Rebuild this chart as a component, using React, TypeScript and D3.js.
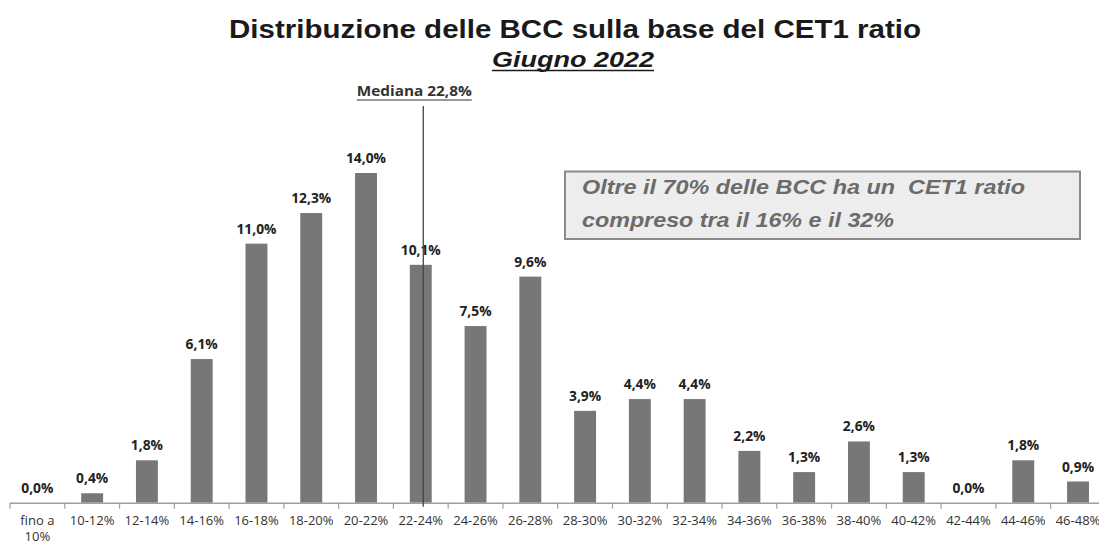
import React from "react";
import * as d3 from "d3";

const categories = [
  "fino a 10%", "10-12%", "12-14%", "14-16%", "16-18%", "18-20%", "20-22%",
  "22-24%", "24-26%", "26-28%", "28-30%", "30-32%", "32-34%", "34-36%",
  "36-38%", "38-40%", "40-42%", "42-44%", "44-46%", "46-48%",
];
const values = [0.0, 0.4, 1.8, 6.1, 11.0, 12.3, 14.0, 10.1, 7.5, 9.6, 3.9, 4.4, 4.4, 2.2, 1.3, 2.6, 1.3, 0.0, 1.8, 0.9];
const tickLabelLines = [
  ["fino a", "10%"], ["10-12%"], ["12-14%"], ["14-16%"], ["16-18%"], ["18-20%"], ["20-22%"],
  ["22-24%"], ["24-26%"], ["26-28%"], ["28-30%"], ["30-32%"], ["32-34%"], ["34-36%"],
  ["36-38%"], ["38-40%"], ["40-42%"], ["42-44%"], ["44-46%"], ["46-48%"],
];
const medianCategory = "22-24%";
const medianLabel = "Mediana 22,8%";
const title = "Distribuzione delle BCC sulla base del CET1 ratio";
const subtitle = "Giugno 2022";
const noteLines = ["Oltre il 70% delle BCC ha un  CET1 ratio", "compreso tra il 16% e il 32%"];

const fmt = (v: number) => v.toFixed(1).replace(".", ",") + "%";

export default function App() {
  const W = 1099, H = 543;
  const x = d3.scaleBand<string>().domain(categories).range([10, 1105.4]).paddingInner(0.6).paddingOuter(0.3);
  const xs = d3.scaleBand<string>().domain(categories).range([10, 1105.4]).padding(0);
  const y = d3.scaleLinear().domain([0, 16]).range([502.7, 502.7 - 16 * 23.55]);
  const y0 = y(0);
  const medX = (x(medianCategory) as number) + x.bandwidth() / 2 + 2.5;
  const boundaries = categories.map((c) => xs(c) as number).concat([xs.range()[1]]);

  return (
    <svg width={W} height={H} style={{ position: "absolute", left: 0, top: 0, background: "#fff" }}>
      <text x={575} y={38} textAnchor="middle" fontFamily="Liberation Sans, Arial, sans-serif" fontWeight="bold" fontSize={25.5} fill="#1a1a1a" textLength={692} lengthAdjust="spacingAndGlyphs">{title}</text>
      <text x={573} y={67} textAnchor="middle" fontFamily="Liberation Sans, Arial, sans-serif" fontWeight="bold" fontStyle="italic" fontSize={22} fill="#1a1a1a" textLength={162} lengthAdjust="spacingAndGlyphs">{subtitle}</text>
      <line x1={492} x2={654} y1={70.5} y2={70.5} stroke="#1a1a1a" strokeWidth={1.6} />

      {/* annotation box */}
      <rect x={565} y={171.5} width={515} height={67.5} fill="#ededed" stroke="#8a8a8a" strokeWidth={2} />
      {noteLines.map((t, i) => (
        <text key={i} x={582} y={194 + i * 33} fontFamily="Liberation Sans, Arial, sans-serif" fontWeight="bold" fontStyle="italic" fontSize={21} fill="#6b6b6b"
          textLength={i === 0 ? 443 : 312} lengthAdjust="spacingAndGlyphs" style={{ whiteSpace: "pre" }}>{t}</text>
      ))}

      {/* bars */}
      {categories.map((c, i) => (
        <rect key={c} x={x(c)} y={y(values[i])} width={x.bandwidth()} height={y0 - y(values[i])} fill="#777777" />
      ))}
      {/* value labels */}
      {categories.map((c, i) => (
        <text key={"l" + c} x={(x(c) as number) + x.bandwidth() / 2} y={y(values[i]) - 10} textAnchor="middle"
          fontFamily="Open Sans, sans-serif" fontWeight="bold" fontSize={13.8} fill="#222">{fmt(values[i])}</text>
      ))}

      {/* axis */}
      <line x1={boundaries[0]} x2={boundaries[boundaries.length - 1]} y1={y0 + 0.5} y2={y0 + 0.5} stroke="#a0a0a0" strokeWidth={1.5} />
      {boundaries.map((b, i) => (
        <line key={"t" + i} x1={b} x2={b} y1={y0} y2={y0 + 6} stroke="#a0a0a0" strokeWidth={1.2} />
      ))}
      {categories.map((c, i) => (
        <text key={"x" + c} x={(xs(c) as number) + xs.bandwidth() / 2} y={525} textAnchor="middle"
          fontFamily="Open Sans, sans-serif" fontSize={13} fill="#333">
          {tickLabelLines[i].map((s, j) => (
            <tspan key={j} x={(xs(c) as number) + xs.bandwidth() / 2} dy={j === 0 ? 0 : 16}>{s}</tspan>
          ))}
        </text>
      ))}

      {/* median */}
      <line x1={medX} x2={medX} y1={106} y2={y0 + 4} stroke="#444" strokeWidth={1.3} />
      <text x={medX - 9} y={96} textAnchor="middle" fontFamily="Open Sans, sans-serif" fontWeight="bold" fontSize={14} fill="#333" textLength={115} lengthAdjust="spacingAndGlyphs">{medianLabel}</text>
      <line x1={medX - 66.5} x2={medX + 48.5} y1={100} y2={100} stroke="#333" strokeWidth={1.2} />
    </svg>
  );
}
